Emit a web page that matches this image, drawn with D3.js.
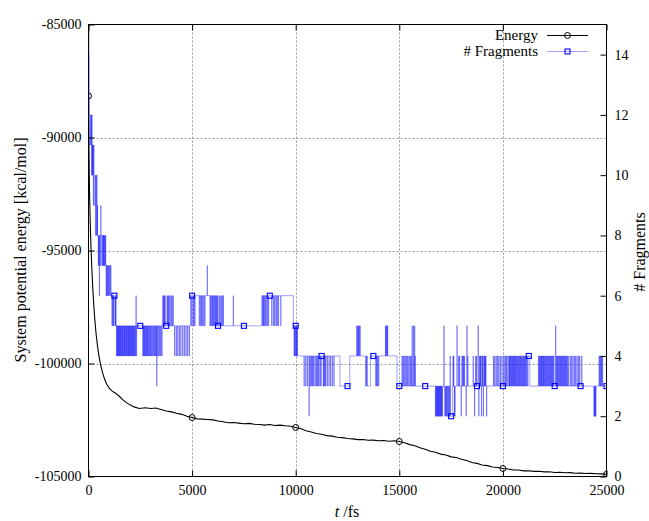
<!DOCTYPE html>
<html><head><meta charset="utf-8">
<script src="https://cdn.jsdelivr.net/npm/d3@7"></script>
<style>
body{margin:0;background:#fff}
</style>
</head><body>
<svg id="c" width="649" height="521" font-family="Liberation Serif"></svg>
<script>
// ---------------- data ----------------
const xTicks = [0, 5000, 10000, 15000, 20000, 25000];
const yTicks = [-105000, -100000, -95000, -90000, -85000];
const y2Ticks = [0, 2, 4, 6, 8, 10, 12, 14];

const energyT = [0,10,20,35,50,72,100,130,165,203,250,300,362,430,500,590,684,780,880,1000,1130,1327,1500,1650,1810,2000,2200,2453,
2750,3000,3250,3500,3750,4000,4250,4500,4750,5000,5250,5500,5750,6000,6250,6500,6750,7000,7250,7500,7750,8000,8250,8500,8750,9000,9250,9500,9750,
10000,10250,10500,10750,11000,11250,11500,11750,12000,12250,12500,12750,13000,13250,13500,13750,14000,14250,14500,14750,
15000,15250,15500,15750,16000,16250,16500,16750,17000,17250,17500,17750,18000,18250,18500,18750,19000,19250,19500,19750,
20000,20250,20500,20750,21000,21250,21500,21750,22000,22250,22500,22750,23000,23250,23500,23750,24000,24250,24500,24750,25000];
const energyE = [-88160,-89300,-90300,-91500,-92400,-93350,-94300,-95100,-95900,-96600,-97350,-98000,-98650,-99200,-99650,-100080,-100430,-100700,-100920,-101090,-101210,-101330,-101460,-101600,-101720,-101830,-101920,-101990,
-101955,-101990,-101970,-102035,-102100,-102140,-102200,-102250,-102330,-102390,-102450,-102460,-102480,-102495,-102545,-102580,-102620,-102610,-102640,-102665,-102650,-102690,-102700,-102725,-102700,-102745,-102725,-102755,-102775,
-102830,-102890,-102975,-103030,-103095,-103130,-103190,-103215,-103260,-103280,-103320,-103335,-103370,-103360,-103395,-103390,-103420,-103410,-103440,-103420,
-103450,-103510,-103590,-103640,-103730,-103790,-103880,-103930,-104010,-104050,-104130,-104160,-104240,-104290,-104380,-104420,-104490,-104520,-104580,-104600,
-104645,-104670,-104710,-104715,-104750,-104745,-104775,-104770,-104795,-104790,-104820,-104815,-104835,-104830,-104855,-104850,-104865,-104860,-104880,-104885,-104905];
const energyMarkT = [0, 5000, 10000, 15000, 20000, 25000];

// fragment count: base level changes (time, count)
const fragBaseT = [0,25,45,110,200,300,440,760,1090,1330,4920,6220,8355,9887,10081,12132,12613,13366,13607,14889,17300,17560,21220,21300];
const fragBaseN = [16,14,12,11,10,9,8,7,6,5,6,5,6,5,4,3,4,3,4,3,2,3,4,3];
// short excursions away from the base level (time, count)
const fragSpikeT = [60,75,90,130,145,160,180,215,230,250,270,285,320,340,360,380,400,420,470,500,520,530,560,590,640,680,720,740,790,820,850,880,920,960,1000,1050,1130,1170,1200,1280,1300,
1350,1380,1410,1440,1470,1500,1530,1560,1600,1630,1660,1700,1730,1760,1800,1830,1860,1900,1930,1960,2000,2030,2060,2100,2130,2160,2200,2230,2270,2290,2310,
2620,2650,2690,2720,2760,2800,2830,2870,2910,2950,2990,3030,3080,3130,3170,3220,3260,3290,3340,3390,3440,3490,3540,
3580,3620,3660,3690,3790,3830,3870,3920,3980,4030,4080,
4150,4230,4300,4380,4450,4540,4620,4700,4780,4860,
4960,5040,5080,5130,5340,5400,5450,5500,5560,5610,5726,5860,5900,5950,5990,6030,6080,6120,6160,6200,
6290,6340,6400,6450,6500,6984,
8400,8436,8470,8520,8565,8629,8680,8839,8919,8980,9049,9100,9162,9275,
9920,9950,9980,10030,10060,
10400,10481,10560,10641,10689,10737,10785,10830,10880,10962,11010,11058,11106,11170,11220,11330,11362,11400,11443,11520,11603,11680,11763,11843,
12940,12980,13020,13060,13100,13400,13440,13860,13900,13950,14000,14330,14360,14400,14430,
15130,15180,15230,15290,15350,15400,15460,15520,15570,15615,15680,15735,15760,
16740,16770,16800,16830,16860,16890,16920,16950,16980,17010,17040,17070,17150,17190,17230,17270,
17330,17370,17420,17450,17590,17620,17650,17680,
17780,17860,17900,17980,18020,18060,18100,18140,18220,18260,18300,
18560,18630,18680,18720,18800,18830,18870,18900,18930,18960,18990,19020,19050,19080,19110,19140,19170,19210,
19540,19600,19670,19740,19800,19870,19950,20040,20100,20150,20200,
20280,20310,20340,20380,20420,20450,20490,20530,20560,20600,20640,20680,20720,20760,20800,20840,20880,20920,20960,21000,21040,21080,21120,21170,
21720,21750,21790,21830,21860,21900,21940,21970,22010,22050,22090,22130,22170,22210,22250,22290,22330,22370,22410,22450,
22540,22580,22620,22660,22700,22740,22780,22820,22860,22900,22940,22980,23020,23060,23100,23150,
23240,23300,23370,23440,23500,23570,23640,23700,23800,
24390,24420,24450,24480,24640,24680,24720,24760,24800];
const fragSpikeN = [11,11,11,12,10,12,10,11,9,11,9,9,10,8,10,8,10,8,7,7,6,7,7,9,7,7,7,7,8,8,6,6,6,6,6,6,5,5,5,5,5,
4,4,4,4,4,4,4,4,4,4,4,4,4,4,4,4,4,4,4,4,4,4,4,4,4,4,4,4,4,6,4,
4,4,4,4,4,4,4,4,4,4,4,4,4,4,4,4,4,3,4,4,4,4,4,
6,6,6,6,6,6,6,6,6,6,6,
4,4,4,4,4,4,4,4,4,4,
5,5,5,5,5,5,5,5,5,5,7,5,5,5,5,5,5,5,5,5,
6,6,6,6,6,6,
5,5,5,5,5,5,5,5,5,5,5,5,5,5,
4,4,4,4,4,
3,3,3,2,3,3,3,3,3,3,3,3,3,3,3,3,3,3,3,3,3,3,3,3,
5,5,5,5,5,4,4,3,3,3,3,5,5,5,5,
4,4,4,4,4,4,4,4,4,5,5,5,4,
2,2,2,2,2,2,2,2,2,2,2,2,5,2,2,2,
3,3,3,4,4,4,2,2,
5,4,4,2,4,4,4,4,2,5,4,
4,2,4,4,5,2,4,4,4,2,4,4,2,4,4,4,4,2,
4,4,4,4,4,4,4,4,4,4,4,
4,4,4,4,4,4,4,4,4,4,4,4,4,4,4,4,4,4,4,4,4,4,4,4,
4,4,4,4,4,4,4,4,4,4,4,4,4,4,4,4,4,4,4,4,
5,4,4,4,4,4,4,4,4,4,4,4,4,4,4,4,
4,4,4,4,4,4,4,4,4,
2,2,2,2,4,4,4,4,4];
const fragSpikeDur = 15;
const fragMarkT = [0,1250,2500,3750,5000,6250,7500,8750,10000,11250,12500,13750,15000,16250,17500,18750,20000,21250,22500,23750,25000];

// ---------------- chart ----------------
const FONT = "Liberation Serif";
const svg = d3.select("#c");
const L = 88.5, R = 606.5, T = 24.5, B = 476.5;
const x = d3.scaleLinear().domain([0, 25000]).range([L, R]);
const yL = d3.scaleLinear().domain([-105000, -85000]).range([B, T]);
const yR = d3.scaleLinear().domain([0, 15]).range([B, T]);

svg.append("defs").append("clipPath").attr("id","clip")
  .append("rect").attr("x", L).attr("y", T).attr("width", R - L).attr("height", B - T);

// grid
const grid = svg.append("g").attr("stroke", "#9a9a9a").attr("stroke-width", 1).attr("stroke-dasharray", "2,2");
grid.selectAll("line.gx").data(xTicks.filter(d => d > 0 && d < 25000)).join("line")
  .attr("x1", d => Math.round(x(d)) + 0.5).attr("x2", d => Math.round(x(d)) + 0.5).attr("y1", T).attr("y2", B);
grid.selectAll("line.gy").data(yTicks.filter(d => d > -105000 && d < -85000)).join("line")
  .attr("y1", d => Math.round(yL(d)) + 0.5).attr("y2", d => Math.round(yL(d)) + 0.5).attr("x1", L).attr("x2", R);

// fragments series
function baseAt(t) { let v = fragBaseN[0]; for (let i = 0; i < fragBaseT.length; i++) { if (fragBaseT[i] <= t) v = fragBaseN[i]; } return v; }
function fragAt(t) {
  for (let i = 0; i < fragSpikeT.length; i++) if (t >= fragSpikeT[i] && t < fragSpikeT[i] + fragSpikeDur) return fragSpikeN[i];
  return baseAt(t);
}
const bounds = new Set([...fragBaseT, 25000]);
fragSpikeT.forEach(t => { bounds.add(t); bounds.add(t + fragSpikeDur); });
const fragSeries = Array.from(bounds).sort((a, b) => a - b).map(t => ({t, n: fragAt(t)}));

const plot = svg.append("g").attr("clip-path", "url(#clip)");

// energy
const energy = energyT.map((t, i) => ({t, e: energyE[i]}));
plot.append("path").datum(energy)
  .attr("fill", "none").attr("stroke", "#000").attr("stroke-width", 1.1)
  .attr("d", d3.line().x(d => x(d.t)).y(d => yL(d.e)));
plot.selectAll("circle.em").data(energyMarkT.map(t => energy.find(d => d.t === t))).join("circle")
  .attr("cx", d => x(d.t)).attr("cy", d => yL(d.e)).attr("r", 3)
  .attr("fill", "none").attr("stroke", "#000").attr("stroke-width", 1);

// fragments
plot.append("path").datum(fragSeries)
  .attr("fill", "none").attr("stroke", "#0000ff").attr("stroke-width", 0.5).attr("stroke-opacity", 0.75)
  .attr("d", d3.line().curve(d3.curveStepAfter).x(d => x(d.t)).y(d => yR(d.n)));
plot.selectAll("rect.fm").data(fragMarkT.map(t => ({t, n: fragAt(t)})).filter(d => d.n <= 15)).join("rect")
  .attr("x", d => x(d.t) - 2.5).attr("y", d => yR(d.n) - 2.5).attr("width", 5).attr("height", 5)
  .attr("fill", "none").attr("stroke", "#0000ff").attr("stroke-width", 1.1);

// axes
function styleAxis(g) {
  g.attr("font-family", FONT).attr("font-size", 14);
  g.select(".domain").remove();
  g.selectAll("line").attr("stroke", "#000");
  g.selectAll("text").attr("fill", "#000").attr("font-family", FONT);
}
svg.append("g").attr("transform", `translate(0,${B})`)
  .call(d3.axisBottom(x).tickValues(xTicks).tickSize(-6).tickPadding(9).tickFormat(d => String(d))).call(styleAxis);
svg.append("g").attr("transform", `translate(0,${T})`)
  .call(d3.axisTop(x).tickValues(xTicks).tickSize(-6).tickFormat("")).call(styleAxis);
svg.append("g").attr("transform", `translate(${L},0)`)
  .call(d3.axisLeft(yL).tickValues(yTicks).tickSize(-6).tickPadding(7).tickFormat(d => String(d))).call(styleAxis);
svg.append("g").attr("transform", `translate(${R},0)`)
  .call(d3.axisRight(yR).tickValues(y2Ticks).tickSize(-6).tickPadding(8).tickFormat(d => String(d))).call(styleAxis);

// border
svg.append("rect").attr("x", L).attr("y", T).attr("width", R - L).attr("height", B - T)
  .attr("fill", "none").attr("stroke", "#000").attr("stroke-width", 1);

// labels
svg.append("text").attr("transform", "translate(26,250) rotate(-90)").attr("text-anchor", "middle")
  .attr("font-family", FONT).attr("font-size", 16).text("System potential energy [kcal/mol]");
svg.append("text").attr("transform", "translate(645,252) rotate(-90)").attr("text-anchor", "middle")
  .attr("font-family", FONT).attr("font-size", 16).text("# Fragments");
const xl = svg.append("text").attr("x", 347).attr("y", 517).attr("text-anchor", "middle")
  .attr("font-family", FONT).attr("font-size", 16);
xl.append("tspan").attr("font-style", "italic").text("t");
xl.append("tspan").text(" /fs");

// legend
const lg = svg.append("g").attr("font-family", FONT).attr("font-size", 15);
lg.append("text").attr("x", 538).attr("y", 40).attr("text-anchor", "end").text("Energy");
lg.append("text").attr("x", 538).attr("y", 56).attr("text-anchor", "end").text("# Fragments");
lg.append("line").attr("x1", 547).attr("x2", 588).attr("y1", 35.5).attr("y2", 35.5).attr("stroke", "#000").attr("stroke-width", 1.1);
lg.append("circle").attr("cx", 567.5).attr("cy", 35.5).attr("r", 3).attr("fill", "none").attr("stroke", "#000");
lg.append("line").attr("x1", 547).attr("x2", 588).attr("y1", 51.5).attr("y2", 51.5).attr("stroke", "#0000ff").attr("stroke-width", 0.5).attr("stroke-opacity", 0.75);
lg.append("rect").attr("x", 565).attr("y", 49).attr("width", 5).attr("height", 5).attr("fill", "none").attr("stroke", "#0000ff").attr("stroke-width", 1.1);
</script>
</body></html>
